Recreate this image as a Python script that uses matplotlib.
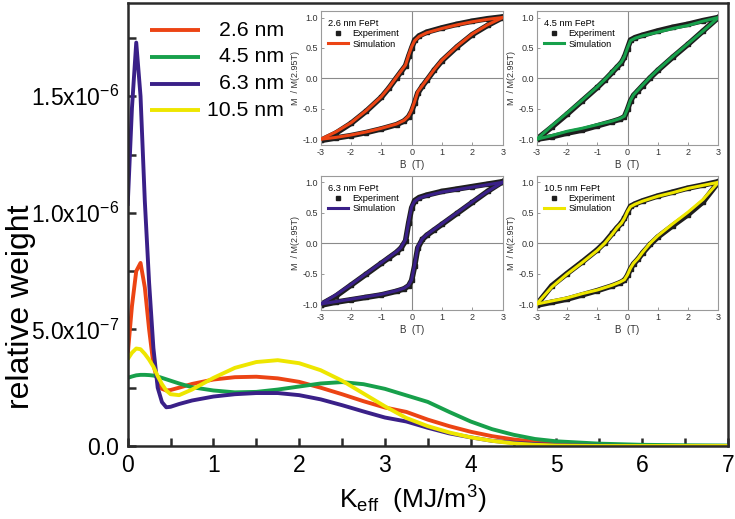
import numpy as np
import matplotlib
matplotlib.use("Agg")
from matplotlib import pyplot as plt
from matplotlib.ticker import MultipleLocator

plt.rcParams["font.family"] = ["Liberation Sans", "DejaVu Sans"]
plt.rcParams["mathtext.fontset"] = "custom"
plt.rcParams["mathtext.rm"] = "Liberation Sans"
plt.rcParams["mathtext.it"] = "Liberation Sans:italic"
plt.rcParams["axes.unicode_minus"] = False

# main panel: distribution of K_eff (weights in units of 1e-7)
k_eff = [0, 0.05, 0.1, 0.15, 0.2, 0.25, 0.3, 0.35, 0.4, 0.45, 0.5, 0.6, 0.75,
         1.0, 1.25, 1.5, 1.75, 2.0, 2.25, 2.5, 2.75, 3.0, 3.25, 3.5, 3.75,
         4.0, 4.25, 4.5, 4.75, 5.0, 5.5, 6.0, 6.5, 7.0]
w_26 = [3.9, 6.0, 7.5, 7.85, 6.8, 5.0, 3.5, 2.75, 2.45, 2.38, 2.4, 2.5, 2.66,
        2.85, 2.95, 2.97, 2.9, 2.75, 2.5, 2.22, 1.92, 1.65, 1.46, 1.13, 0.85,
        0.61, 0.42, 0.28, 0.18, 0.10, 0.03, 0.01, 0.0, 0.0]
w_45 = [2.92, 2.98, 3.03, 3.05, 3.05, 3.04, 3.02, 2.98, 2.92, 2.86, 2.8, 2.68, 2.52,
        2.38, 2.3, 2.32, 2.42, 2.55, 2.68, 2.74, 2.65, 2.45, 2.17, 1.89, 1.46,
        1.05, 0.72, 0.48, 0.30, 0.20, 0.10, 0.05, 0.03, 0.02]
w_63 = [10.3, 14.5, 17.3, 15.0, 10.5, 7.0, 4.2, 2.5, 1.88, 1.66, 1.68, 1.8, 1.95,
        2.12, 2.22, 2.27, 2.27, 2.18, 2.0, 1.75, 1.48, 1.22, 1.05, 0.78, 0.54,
        0.37, 0.22, 0.14, 0.08, 0.04, 0.01, 0.0, 0.0, 0.0]
w_105 = [3.72, 4.0, 4.18, 4.15, 3.95, 3.7, 3.4, 3.0, 2.65, 2.38, 2.22, 2.18, 2.42,
         2.92, 3.35, 3.6, 3.68, 3.55, 3.25, 2.8, 2.25, 1.7, 1.2, 0.85, 0.58,
         0.37, 0.22, 0.11, 0.05, 0.02, 0.0, 0.0, 0.0, 0.0]
sizes = ["2.6 nm", "4.5 nm", "6.3 nm", "10.5 nm"]
colors = ["#EC4414", "#17A04B", "#3A2088", "#EEE600"]
y_ticks = [0, 5e-7, 1e-6, 1.5e-6]
y_ticklabels = ["0.0", "5.0x10$^{-7}$", "1.0x10$^{-6}$", "1.5x10$^{-6}$"]

# insets: hysteresis loops M/M(2.95T) vs B (T)
b_up = [3, 2.5, 2, 1.5, 1, 0.5, 0.25, 0.1, 0, -0.1, -0.2, -0.35, -0.5, -0.75, -1, -1.5, -2, -2.5, -3]
b_dn = [-3, -2.5, -2, -1.5, -1, -0.5, -0.25, -0.1, 0, 0.1, 0.2, 0.35, 0.5, 0.75, 1, 1.5, 2, 2.5, 3]

sim_26_up = [1.0, 0.97, 0.93, 0.88, 0.82, 0.75, 0.69, 0.62, 0.52, 0.38, 0.22, 0.12, 0.02, -0.15, -0.30, -0.53, -0.73, -0.88, -1.0]
sim_26_dn = [-1.0, -0.97, -0.93, -0.88, -0.82, -0.75, -0.69, -0.62, -0.52, -0.38, -0.22, -0.12, -0.02, 0.15, 0.30, 0.53, 0.73, 0.88, 1.0]
exp_26_up = [1.01, 0.98, 0.94, 0.89, 0.83, 0.76, 0.70, 0.63, 0.50, 0.36, 0.21, 0.11, 0.01, -0.16, -0.31, -0.54, -0.74, -0.90, -1.02]
exp_26_dn = [-1.02, -0.98, -0.94, -0.89, -0.83, -0.76, -0.70, -0.63, -0.54, -0.40, -0.24, -0.13, -0.03, 0.14, 0.29, 0.52, 0.72, 0.87, 1.0]

sim_45_up = [1.0, 0.94, 0.87, 0.82, 0.76, 0.70, 0.66, 0.62, 0.50, 0.36, 0.27, 0.19, 0.11, -0.02, -0.14, -0.36, -0.57, -0.78, -1.0]
sim_45_dn = [-1.0, -0.94, -0.87, -0.82, -0.76, -0.70, -0.66, -0.62, -0.50, -0.36, -0.27, -0.19, -0.11, 0.02, 0.14, 0.36, 0.57, 0.78, 1.0]
exp_45_up = [1.0, 0.95, 0.89, 0.84, 0.78, 0.71, 0.67, 0.63, 0.49, 0.35, 0.26, 0.18, 0.10, -0.03, -0.15, -0.37, -0.59, -0.80, -1.0]
exp_45_dn = [-1.0, -0.96, -0.90, -0.85, -0.78, -0.71, -0.67, -0.63, -0.51, -0.37, -0.28, -0.20, -0.12, 0.01, 0.13, 0.35, 0.56, 0.78, 1.0]

sim_63_up = [1.0, 0.96, 0.92, 0.88, 0.84, 0.78, 0.74, 0.69, 0.60, 0.35, 0.06, -0.07, -0.14, -0.23, -0.32, -0.50, -0.68, -0.85, -1.0]
sim_63_dn = [-1.0, -0.96, -0.92, -0.88, -0.84, -0.78, -0.74, -0.69, -0.60, -0.35, -0.06, 0.07, 0.14, 0.23, 0.32, 0.50, 0.68, 0.85, 1.0]
exp_63_up = [1.01, 0.97, 0.93, 0.89, 0.85, 0.79, 0.75, 0.70, 0.58, 0.33, 0.04, -0.08, -0.15, -0.24, -0.33, -0.51, -0.69, -0.87, -1.01]
exp_63_dn = [-1.02, -0.97, -0.93, -0.89, -0.85, -0.79, -0.75, -0.70, -0.61, -0.37, -0.08, 0.06, 0.13, 0.22, 0.31, 0.49, 0.67, 0.85, 1.01]

sim_105_up = [1.0, 0.95, 0.90, 0.83, 0.77, 0.69, 0.64, 0.60, 0.52, 0.41, 0.33, 0.25, 0.15, 0.0, -0.12, -0.32, -0.51, -0.72, -1.0]
sim_105_dn = [-1.0, -0.95, -0.90, -0.83, -0.77, -0.69, -0.64, -0.60, -0.52, -0.41, -0.33, -0.25, -0.15, 0.0, 0.12, 0.32, 0.51, 0.72, 1.0]
exp_105_up = [1.01, 0.955, 0.905, 0.84, 0.775, 0.695, 0.645, 0.605, 0.51, 0.41, 0.33, 0.25, 0.16, 0.01, -0.11, -0.31, -0.50, -0.70, -1.01]
exp_105_dn = [-1.02, -0.97, -0.92, -0.85, -0.78, -0.70, -0.65, -0.61, -0.53, -0.42, -0.34, -0.26, -0.16, -0.02, 0.10, 0.29, 0.47, 0.68, 1.0]

fig = plt.figure(figsize=(7.35, 5.19), dpi=100)
ax = fig.add_axes([0.1737, 0.1407, 0.8167, 0.8536])

weights = [w_26, w_45, w_63, w_105]
for w, lab, c in zip(weights, sizes, colors):
    ax.plot(k_eff, np.array(w) * 1e-7, color=c, lw=2.8, label=lab, solid_capstyle="butt")

ax.set_xlim(0, 7)
ax.set_ylim(0, 1.9e-6)
ax.set_yticks(y_ticks)
ax.set_yticklabels(y_ticklabels)
ax.xaxis.set_major_locator(MultipleLocator(1))
ax.xaxis.set_minor_locator(MultipleLocator(0.5))
ax.yaxis.set_minor_locator(MultipleLocator(2.5e-7))
ax.tick_params(which="both", direction="in", length=6, width=1.8, color="#2a2a2a",
               labelsize=16.5, pad=6)
for s in ax.spines.values():
    s.set_linewidth(1.8)
    s.set_color("#2a2a2a")
ax.set_ylabel("relative weight", fontsize=23)
ax.yaxis.set_label_coords(-0.152, 0.314)
ax.set_xlabel("K$_{\\rm eff}$  (MJ/m$^3$)", fontsize=19)
ax.xaxis.set_label_coords(0.475, -0.085)

# legend with right-aligned labels, as in the original
for i, (lab, c) in enumerate(zip(sizes, colors)):
    ly = 0.9384 - 0.0603 * i
    ax.plot([0.037, 0.1206], [ly, ly], transform=ax.transAxes, color=c, lw=2.8,
            solid_capstyle="butt")
    ax.text(0.2604, ly, lab, transform=ax.transAxes, ha="right", va="center",
            fontsize=15.3)

inset_pos = [[0.4363, 0.720, 0.2476, 0.258], [0.7302, 0.720, 0.2471, 0.258],
             [0.4363, 0.4025, 0.2476, 0.258], [0.7302, 0.4025, 0.2471, 0.258]]
loops = [(sim_26_up, sim_26_dn, exp_26_up, exp_26_dn),
         (sim_45_up, sim_45_dn, exp_45_up, exp_45_dn),
         (sim_63_up, sim_63_dn, exp_63_up, exp_63_dn),
         (sim_105_up, sim_105_dn, exp_105_up, exp_105_dn)]

for pos, (su, sd, eu, ed), lab, c in zip(inset_pos, loops, sizes, colors):
    ia = fig.add_axes(pos)
    ia.axhline(0, color="#8a8a8a", lw=0.8, zorder=1)
    ia.axvline(0, color="#8a8a8a", lw=0.8, zorder=1)
    for b, e in ((b_up, eu), (b_dn, ed)):
        ia.plot(b, e, color="#1e1e1e", lw=4.0, zorder=2)
        ia.plot(b, e, ls="none", marker="s", ms=3.2, color="#1e1e1e", zorder=2)
    ia.plot(b_up, su, color=c, lw=2.2, zorder=3)
    ia.plot(b_dn, sd, color=c, lw=2.2, zorder=3)
    # legend handles
    ia.plot([], [], ls="none", marker="s", ms=2.6, color="#1e1e1e", label="Experiment")
    ia.plot([], [], color=c, lw=2.2, label="Simulation")
    ia.legend(title=lab + " FePt", loc="upper left", bbox_to_anchor=(0.04, 0.945),
              frameon=False, fontsize=6.7, title_fontsize=6.7, alignment="left",
              handlelength=2.2, handletextpad=0.4, labelspacing=0.15,
              borderpad=0, borderaxespad=0)
    ia.set_xlim(-3, 3)
    ia.set_ylim(-1.1, 1.1)
    ia.set_xticks([-3, -2, -1, 0, 1, 2, 3])
    ia.set_yticks([-1.0, -0.5, 0.0, 0.5, 1.0])
    ia.set_yticklabels(["-1.0", "-0.5", "0.0", "0.5", "1.0"])
    ia.tick_params(direction="in", length=2, width=0.6, color="#888888",
                   labelsize=6.5, labelcolor="#333333", pad=2)
    for s in ia.spines.values():
        s.set_linewidth(0.8)
        s.set_color("#9a9a9a")
    ia.set_xlabel("B  (T)", fontsize=7, color="#333333", labelpad=2)
    ia.set_ylabel("M  / M(2.95T)", fontsize=6.5, color="#333333", labelpad=2)

fig.savefig("out.png", dpi=100)
